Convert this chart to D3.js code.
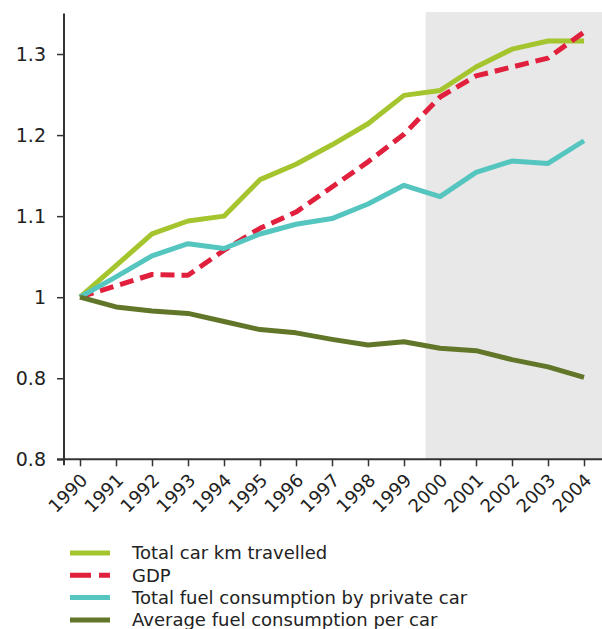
<!DOCTYPE html>
<html lang="en">
<head>
    <meta charset="UTF-8">
    <title>Car travel, fuel and GDP</title>
    <script src="https://cdn.jsdelivr.net/npm/d3@7"></script>
    <style>
        body { margin: 0; background: #fff; }
        svg text { font-family: "DejaVu Sans", Verdana, sans-serif; fill: #222; }
    </style>
</head>
<body>
    <svg id="chart" width="602" height="629"></svg>

    <script type="text/javascript">
        // index values, 1990 = 1
        const years = [1990, 1991, 1992, 1993, 1994, 1995, 1996, 1997, 1998, 1999, 2000, 2001, 2002, 2003, 2004];
        const carKm = [1.0, 1.039, 1.078, 1.094, 1.100, 1.145, 1.164, 1.188, 1.214, 1.249, 1.255, 1.284, 1.306, 1.316, 1.316];
        const gdp = [1.0, 1.014, 1.028, 1.027, 1.058, 1.085, 1.105, 1.136, 1.167, 1.201, 1.247, 1.273, 1.284, 1.295, 1.327];
        const fuelTotal = [1.0, 1.025, 1.051, 1.066, 1.060, 1.078, 1.090, 1.097, 1.115, 1.138, 1.124, 1.154, 1.168, 1.165, 1.193];
        const fuelPerCar = [1.0, 0.988, 0.983, 0.980, 0.970, 0.960, 0.956, 0.948, 0.941, 0.945, 0.937, 0.934, 0.923, 0.914, 0.901];

        // the source chart labels both of the lowest ticks "0.8"
        const yTickValues = [0.8, 0.9, 1.0, 1.1, 1.2, 1.3];
        const yTickLabels = ["0.8", "0.8", "1", "1.1", "1.2", "1.3"];

        const shadeFrom = 1999.6;

        const series = [
            { name: "Total car km travelled", values: carKm, color: "#a4c52e", dash: null },
            { name: "GDP", values: gdp, color: "#e0203c", dash: "14,7" },
            { name: "Total fuel consumption by private car", values: fuelTotal, color: "#55c5bf", dash: null },
            { name: "Average fuel consumption per car", values: fuelPerCar, color: "#62762a", dash: null }
        ];

        const svg = d3.select("#chart");
        const axisColor = "#333";

        const x = d3.scaleLinear().domain([1990, 2004]).range([80, 584]);
        const y = d3.scaleLinear().domain([0.8, 1.35]).range([459.3, 13.5]);
        const axisX = 64;
        const axisY = y(0.8);

        // shaded projection period
        svg.append("rect")
            .attr("x", x(shadeFrom))
            .attr("y", 12)
            .attr("width", 602 - x(shadeFrom))
            .attr("height", axisY - 12)
            .attr("fill", "#e8e8e8");

        // y axis
        const yAxis = d3.axisLeft(y)
            .tickValues(yTickValues)
            .tickFormat((d, i) => yTickLabels[i])
            .tickSize(7)
            .tickPadding(11);
        const gy = svg.append("g")
            .attr("transform", `translate(${axisX},0)`)
            .call(yAxis);
        gy.select(".domain").remove();
        gy.selectAll("line").attr("stroke", axisColor).attr("stroke-width", 1.5);
        gy.selectAll("text").attr("font-size", 19).style("fill", "#222");

        // x axis
        const xAxis = d3.axisBottom(x)
            .tickValues(years)
            .tickFormat(d3.format("d"))
            .tickSize(7);
        const gx = svg.append("g")
            .attr("transform", `translate(0,${axisY})`)
            .call(xAxis);
        gx.select(".domain").remove();
        gx.selectAll("line").attr("stroke", axisColor).attr("stroke-width", 1.5);
        gx.selectAll("text")
            .attr("font-size", 18)
            .attr("text-anchor", "end")
            .attr("y", 0)
            .attr("dy", 0)
            .attr("transform", "translate(8,22) rotate(-45)")
            .style("fill", "#222");

        // axis lines, crossing slightly at the origin
        svg.append("line")
            .attr("x1", axisX).attr("x2", axisX)
            .attr("y1", y.range()[1]).attr("y2", axisY + 6)
            .attr("stroke", axisColor).attr("stroke-width", 2);
        svg.append("line")
            .attr("x1", axisX - 7).attr("x2", 602)
            .attr("y1", axisY).attr("y2", axisY)
            .attr("stroke", axisColor).attr("stroke-width", 2);

        // lines
        const line = d3.line()
            .x((d, i) => x(years[i]))
            .y(d => y(d));

        svg.selectAll(".series")
            .data(series)
            .join("path")
            .attr("class", "series")
            .attr("d", d => line(d.values))
            .attr("fill", "none")
            .attr("stroke", d => d.color)
            .attr("stroke-width", 5)
            .attr("stroke-linejoin", "round")
            .attr("stroke-dasharray", d => d.dash);

        // legend
        const legend = svg.append("g")
            .selectAll("g")
            .data(series)
            .join("g")
            .attr("transform", (d, i) => `translate(70,${553 + i * 22.3})`);

        legend.append("line")
            .attr("x1", 0).attr("x2", 40)
            .attr("stroke", d => d.color)
            .attr("stroke-width", 5)
            .attr("stroke-dasharray", d => d.dash ? "21,8" : null);

        legend.append("text")
            .attr("x", 62)
            .attr("dy", "0.36em")
            .attr("font-size", 18)
            .text(d => d.name);
    </script>
</body>
</html>
